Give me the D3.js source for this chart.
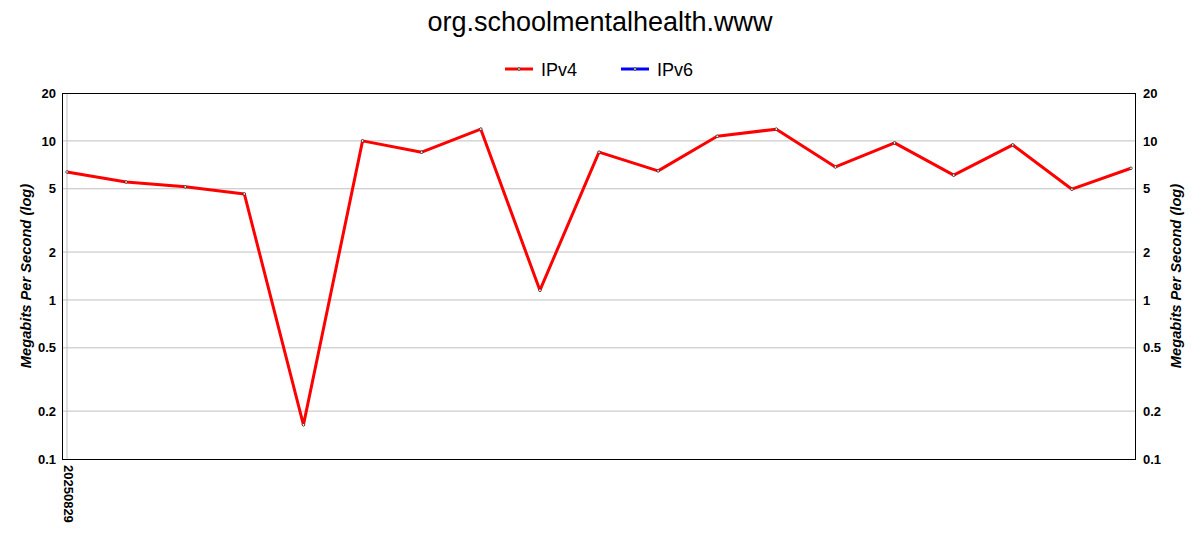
<!DOCTYPE html>
<html>
<head>
<meta charset="utf-8">
<script src="https://cdn.jsdelivr.net/npm/d3@7"></script>
<style>
  body { margin: 0; background: #fff; }
  text { font-family: "Liberation Sans", Arial, sans-serif; }
  .tick-label { font-size: 13px; font-weight: bold; fill: #000; }
  .axis-title { font-size: 14.7px; font-weight: bold; font-style: italic; }
</style>
</head>
<body>
<div id="chart"></div>
<script>
const title = "org.schoolmentalhealth.www"
const dates = [
  "20250829", "20250830", "20250831", "20250901", "20250902", "20250903",
  "20250904", "20250905", "20250906", "20250907", "20250908", "20250909",
  "20250910", "20250911", "20250912", "20250913", "20250914", "20250915",
  "20250916"
]
const dateLabels = ["20250829"]
const ipv4 = [
  6.38, 5.52, 5.14, 4.64, 0.164, 10.0, 8.49, 11.85, 1.15, 8.49,
  6.48, 10.7, 11.85, 6.86, 9.71, 6.09, 9.43, 4.97, 6.73
]
const ipv6 = []
const yTicks = [0.1, 0.2, 0.5, 1, 2, 5, 10, 20]
const seriesNames = ["IPv4", "IPv6"]
const seriesColors = ["#ff0000", "#0000ff"]

const width = 1200
const height = 550
const margin = { top: 93, right: 65, bottom: 91, left: 62 }
const innerW = width - margin.left - margin.right
const innerH = height - margin.top - margin.bottom

const svg = d3.select("#chart")
  .append("svg")
  .attr("width", width)
  .attr("height", height)

svg.append("text")
  .attr("x", width / 2)
  .attr("y", 31)
  .attr("text-anchor", "middle")
  .style("font-size", "27px")
  .text(title)

// legend
const legend = svg.append("g").attr("transform", "translate(505,69)")
seriesNames.forEach((name, i) => {
  const g = legend.append("g").attr("transform", `translate(${i * 116},0)`)
  g.append("line")
    .attr("x1", 0).attr("x2", 28)
    .attr("stroke", seriesColors[i]).attr("stroke-width", 3)
  g.append("circle")
    .attr("cx", 14).attr("r", 1.3)
    .attr("fill", "#fff").attr("stroke", "#000").attr("stroke-width", 0.6)
  g.append("text")
    .attr("x", 36).attr("y", 6.5)
    .style("font-size", "18px")
    .text(name)
})

const plot = svg.append("g")
  .attr("transform", `translate(${margin.left},${margin.top})`)

const x = d3.scalePoint().domain(dates).range([5, innerW - 4])
const y = d3.scaleLog().domain([0.1, 20]).range([innerH, 0])

// horizontal grid
plot.append("g")
  .selectAll("line")
  .data(yTicks.slice(1, -1))
  .join("line")
  .attr("x1", 0).attr("x2", innerW)
  .attr("y1", (d) => y(d)).attr("y2", (d) => y(d))
  .attr("stroke", "#c0c0c0")

// vertical grid at labelled dates
plot.append("g")
  .selectAll("line")
  .data(dateLabels)
  .join("line")
  .attr("x1", (d) => x(d)).attr("x2", (d) => x(d))
  .attr("y1", 0).attr("y2", innerH)
  .attr("stroke", "#c0c0c0")

plot.append("rect")
  .attr("x", 0.5).attr("y", 0.5)
  .attr("width", innerW).attr("height", innerH)
  .attr("fill", "none").attr("stroke", "#000")

// y axes
const fmt = (d) => d3.format("~g")(d)
const leftAxis = plot.append("g")
  .call(d3.axisLeft(y).tickValues(yTicks).tickFormat(fmt).tickSize(0).tickPadding(6))
const rightAxis = plot.append("g")
  .attr("transform", `translate(${innerW},0)`)
  .call(d3.axisRight(y).tickValues(yTicks).tickFormat(fmt).tickSize(0).tickPadding(8))
;[leftAxis, rightAxis].forEach((a) => {
  a.select(".domain").remove()
  a.selectAll("text").attr("class", "tick-label").attr("fill", "#000")
})

// x axis
const xAxis = plot.append("g")
  .attr("transform", `translate(0,${innerH})`)
  .call(d3.axisBottom(x).tickValues(dateLabels).tickSize(0))
xAxis.select(".domain").remove()
xAxis.selectAll("text")
  .attr("class", "tick-label")
  .attr("fill", "#000")
  .attr("text-anchor", "start")
  .attr("dy", null)
  .attr("y", 0)
  .attr("transform", "translate(0,6) rotate(90)")
  .attr("dominant-baseline", "middle")

// axis titles
svg.append("text")
  .attr("class", "axis-title")
  .attr("transform", `translate(31,${margin.top + innerH / 2}) rotate(-90)`)
  .attr("text-anchor", "middle")
  .text("Megabits Per Second (log)")
svg.append("text")
  .attr("class", "axis-title")
  .attr("transform", `translate(1181,${margin.top + innerH / 2}) rotate(-90)`)
  .attr("text-anchor", "middle")
  .text("Megabits Per Second (log)")

// series
const line = d3.line()
  .x((d, i) => x(dates[i]))
  .y((d) => y(d))

;[ipv4, ipv6].forEach((vals, s) => {
  if (!vals.length) return
  plot.append("path")
    .datum(vals)
    .attr("fill", "none")
    .attr("stroke", seriesColors[s])
    .attr("stroke-width", 3)
    .attr("stroke-linejoin", "round")
    .attr("d", line)
  plot.append("g")
    .selectAll("circle")
    .data(vals)
    .join("circle")
    .attr("cx", (d, i) => x(dates[i]))
    .attr("cy", (d) => y(d))
    .attr("r", 1.3)
    .attr("fill", "#fff")
    .attr("stroke", "#000")
    .attr("stroke-width", 0.6)
})
</script>
</body>
</html>
